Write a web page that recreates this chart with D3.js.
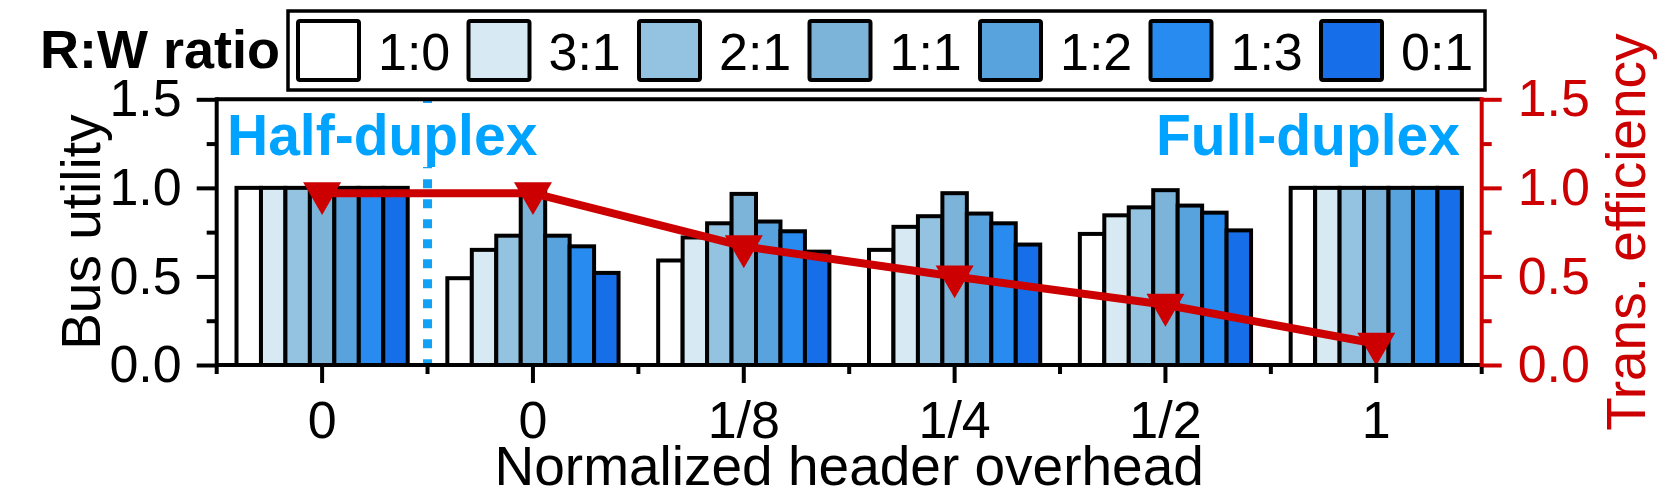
<!DOCTYPE html>
<html>
<head>
<meta charset="utf-8">
<script src="https://cdnjs.cloudflare.com/ajax/libs/d3/7.8.5/d3.min.js"></script>
<style>
	body { margin: 0; background: #fff; }
	text { font-family: "Liberation Sans", Arial, Helvetica, sans-serif; }
</style>
</head>
<body>
<script>
// categories on the x axis (normalized header overhead)
var groups = ["0", "0", "1/8", "1/4", "1/2", "1"];

// read:write ratios, one bar per ratio in every group
var ratios = ["1:0", "3:1", "2:1", "1:1", "1:2", "1:3", "0:1"];
var ratio_colors = ["#ffffff", "#d7e9f2", "#93c3e0", "#7cb3d9", "#58a3de", "#278bf0", "#166fe8"];

// bus utility per ratio, one value per group
var util_1_0 = [1.00, 0.49, 0.59, 0.65, 0.74, 1.00];
var util_3_1 = [1.00, 0.65, 0.72, 0.78, 0.845, 1.00];
var util_2_1 = [1.00, 0.73, 0.80, 0.84, 0.89, 1.00];
var util_1_1 = [1.00, 0.98, 0.966, 0.97, 0.987, 1.00];
var util_1_2 = [1.00, 0.73, 0.81, 0.855, 0.90, 1.00];
var util_1_3 = [1.00, 0.67, 0.755, 0.80, 0.86, 1.00];
var util_0_1 = [1.00, 0.52, 0.64, 0.68, 0.76, 1.00];

// transmission efficiency (right axis)
var trans_eff = [0.97, 0.97, 0.67, 0.50, 0.34, 0.12];

var y_ticks = [0, 0.5, 1.0, 1.5];
var y_minor = [0.25, 0.75, 1.25];

var util = [util_1_0, util_3_1, util_2_1, util_1_1, util_1_2, util_1_3, util_0_1];

var width = 1661, height = 498;
var plot = {left: 216.7, right: 1481.7, top: 99.3, bottom: 365};
var red = "#cc0000", duplex_blue = "#00a3ff";

var svg = d3.select("body").append("svg")
	.attr("width", width)
	.attr("height", height);

// scales
var x = d3.scaleBand().domain(d3.range(groups.length)).range([plot.left, plot.right]);
var x_inner = d3.scaleBand().domain(d3.range(ratios.length))
	.range([0, x.bandwidth()]).paddingInner(0).paddingOuter(0.81);
var y = d3.scaleLinear().domain([0, 1.5]).range([plot.bottom, plot.top]);
var y2 = d3.scaleLinear().domain([0, 1.5]).range([plot.bottom, plot.top]);

// bars
var bar_data = [];
groups.forEach(function(g, gi) {
	ratios.forEach(function(r, ri) {
		bar_data.push({g: gi, r: ri, v: util[ri][gi]});
	});
});

svg.append("g").selectAll("rect")
	.data(bar_data)
	.enter().append("rect")
	.attr("x", function(d) { return x(d.g) + x_inner(d.r); })
	.attr("y", function(d) { return y(d.v); })
	.attr("width", x_inner.bandwidth())
	.attr("height", function(d) { return y(0) - y(d.v); })
	.attr("fill", function(d) { return ratio_colors[d.r]; })
	.attr("stroke", "#000")
	.attr("stroke-width", 4);

// dotted separator between half and full duplex
svg.append("line")
	.attr("x1", x(1)).attr("x2", x(1))
	.attr("y1", plot.top).attr("y2", plot.bottom)
	.attr("stroke", "#12a2f5")
	.attr("stroke-width", 9)
	.attr("stroke-dasharray", "9,11");

// half / full duplex labels
var half = svg.append("g");
var half_text = half.append("text")
	.attr("x", 227)
	.attr("y", 155)
	.attr("font-size", 57)
	.attr("font-weight", "bold")
	.attr("fill", duplex_blue)
	.text("Half-duplex");
var bb = half_text.node().getBBox();
half.insert("rect", "text")
	.attr("x", bb.x - 4).attr("y", bb.y)
	.attr("width", bb.width + 8).attr("height", bb.height)
	.attr("fill", "#fff");

svg.append("text")
	.attr("x", 1460)
	.attr("y", 155)
	.attr("font-size", 57)
	.attr("font-weight", "bold")
	.attr("fill", duplex_blue)
	.attr("text-anchor", "end")
	.text("Full-duplex");

// efficiency line and markers
var line = d3.line()
	.x(function(d, i) { return x(i) + x.bandwidth() / 2; })
	.y(function(d) { return y2(d); });

svg.append("path")
	.datum(trans_eff)
	.attr("d", line)
	.attr("fill", "none")
	.attr("stroke", red)
	.attr("stroke-width", 8)
	.attr("stroke-linejoin", "round");

svg.append("g").selectAll("path")
	.data(trans_eff)
	.enter().append("path")
	.attr("d", d3.symbol().type(d3.symbolTriangle).size(625))
	.attr("transform", function(d, i) {
		return "translate(" + (x(i) + x.bandwidth() / 2) + "," + y2(d) + ") rotate(180)";
	})
	.attr("fill", red);

// left axis
var y_axis = svg.append("g")
	.attr("transform", "translate(" + plot.left + ",0)")
	.call(d3.axisLeft(y).tickValues(y_ticks).tickSize(20).tickPadding(15)
		.tickFormat(d3.format(".1f")));
y_axis.call(function(g) { g.select(".domain").remove(); });
y_axis.selectAll("line").attr("stroke-width", 4);
y_axis.selectAll("text").attr("font-size", 52).attr("font-family", null).attr("fill", "#000");

svg.append("g")
	.attr("transform", "translate(" + plot.left + ",0)")
	.call(d3.axisLeft(y).tickValues(y_minor).tickSize(10).tickFormat(""))
	.call(function(g) { g.select(".domain").remove(); })
	.selectAll("line").attr("stroke-width", 4);

// right axis
var y2_axis = svg.append("g")
	.attr("transform", "translate(" + plot.right + ",0)")
	.call(d3.axisRight(y2).tickValues(y_ticks).tickSize(20).tickPadding(16)
		.tickFormat(d3.format(".1f")));
y2_axis.call(function(g) { g.select(".domain").remove(); });
y2_axis.selectAll("line").attr("stroke", red).attr("stroke-width", 4);
y2_axis.selectAll("text").attr("font-size", 52).attr("font-family", null).attr("fill", red);

svg.append("g")
	.attr("transform", "translate(" + plot.right + ",0)")
	.call(d3.axisRight(y2).tickValues(y_minor).tickSize(10).tickFormat(""))
	.call(function(g) { g.select(".domain").remove(); })
	.selectAll("line").attr("stroke", red).attr("stroke-width", 4);

// bottom axis
var x_axis = svg.append("g")
	.attr("transform", "translate(0," + plot.bottom + ")")
	.call(d3.axisBottom(x).tickSize(18).tickPadding(18)
		.tickFormat(function(i) { return groups[i]; }));
x_axis.call(function(g) { g.select(".domain").remove(); });
x_axis.selectAll("line").attr("stroke-width", 4);
x_axis.selectAll("text").attr("font-size", 52).attr("font-family", null).attr("fill", "#000");

// minor ticks at the group boundaries
svg.append("g").selectAll("line")
	.data(d3.range(groups.length + 1))
	.enter().append("line")
	.attr("x1", function(i) { return i < groups.length ? x(i) : plot.right; })
	.attr("x2", function(i) { return i < groups.length ? x(i) : plot.right; })
	.attr("y1", plot.bottom)
	.attr("y2", plot.bottom + 9)
	.attr("stroke", "#000")
	.attr("stroke-width", 4);

// frame
svg.append("line").attr("x1", plot.left).attr("x2", plot.right)
	.attr("y1", plot.top).attr("y2", plot.top)
	.attr("stroke", "#000").attr("stroke-width", 4);
svg.append("line").attr("x1", plot.left).attr("x2", plot.right)
	.attr("y1", plot.bottom).attr("y2", plot.bottom)
	.attr("stroke", "#000").attr("stroke-width", 4);
svg.append("line").attr("x1", plot.left).attr("x2", plot.left)
	.attr("y1", plot.top - 2).attr("y2", plot.bottom + 2)
	.attr("stroke", "#000").attr("stroke-width", 4);
svg.append("line").attr("x1", plot.right).attr("x2", plot.right)
	.attr("y1", plot.top - 2).attr("y2", plot.bottom + 2)
	.attr("stroke", red).attr("stroke-width", 4);

// axis titles
svg.append("text")
	.attr("transform", "translate(100," + (plot.top + plot.bottom) / 2 + ") rotate(-90)")
	.attr("text-anchor", "middle")
	.attr("font-size", 55)
	.text("Bus utility");

svg.append("text")
	.attr("transform", "translate(1645," + (plot.top + plot.bottom) / 2 + ") rotate(-90)")
	.attr("text-anchor", "middle")
	.attr("font-size", 55)
	.attr("fill", red)
	.text("Trans. efficiency");

svg.append("text")
	.attr("x", (plot.left + plot.right) / 2)
	.attr("y", 485)
	.attr("text-anchor", "middle")
	.attr("font-size", 55)
	.text("Normalized header overhead");

// legend
svg.append("text")
	.attr("x", 280)
	.attr("y", 68)
	.attr("text-anchor", "end")
	.attr("font-size", 54)
	.attr("font-weight", "bold")
	.text("R:W ratio");

svg.append("rect")
	.attr("x", 288).attr("y", 11)
	.attr("width", 1485 - 288).attr("height", 90 - 11)
	.attr("fill", "#fff")
	.attr("stroke", "#000")
	.attr("stroke-width", 3.5);

var legend = svg.append("g").selectAll("g")
	.data(ratios)
	.enter().append("g")
	.attr("transform", function(d, i) { return "translate(" + (298 + i * 170.5) + ",21)"; });

legend.append("rect")
	.attr("width", 61).attr("height", 59)
	.attr("rx", 2)
	.attr("fill", function(d, i) { return ratio_colors[i]; })
	.attr("stroke", "#000")
	.attr("stroke-width", 4);

legend.append("text")
	.attr("x", 80)
	.attr("y", 49)
	.attr("font-size", 52)
	.text(function(d) { return d; });
</script>
</body>
</html>
